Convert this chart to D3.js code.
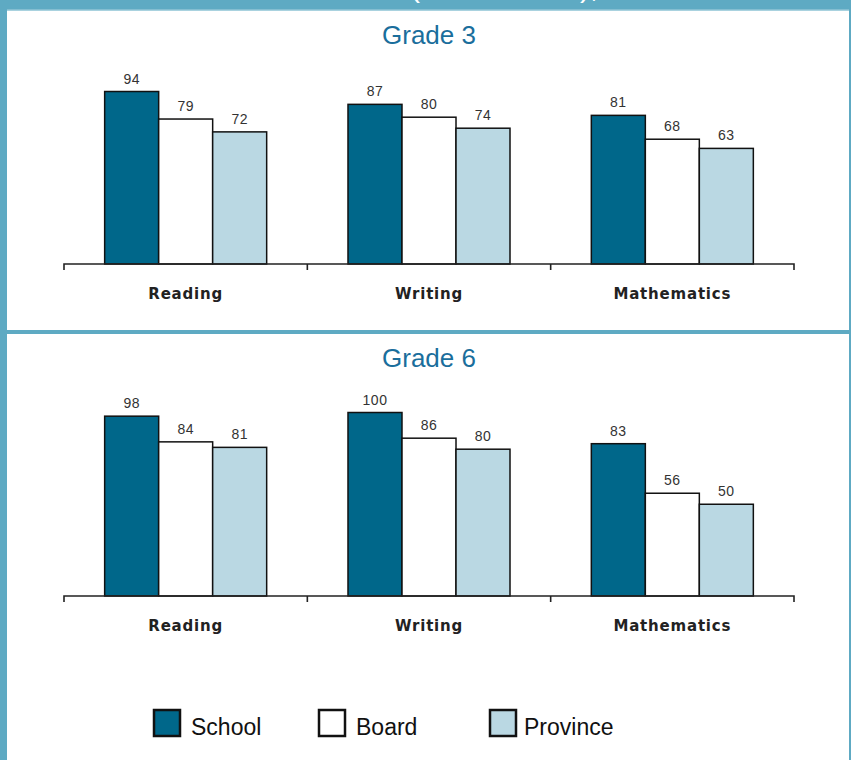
<!DOCTYPE html>
<html>
<head>
<meta charset="utf-8">
<script src="https://cdn.jsdelivr.net/npm/d3@7/dist/d3.min.js"></script>
<style>
  html, body { margin: 0; padding: 0; background: #fff; }
  svg { display: block; }
</style>
</head>
<body>
<svg id="chart" width="851" height="760"></svg>
<script>
const panelTitles = ["Grade 3", "Grade 6"];
const categories = ["Reading", "Writing", "Mathematics"];
const seriesNames = ["School", "Board", "Province"];
const grade3School = [94, 87, 81];
const grade3Board = [79, 80, 68];
const grade3Province = [72, 74, 63];
const grade6School = [98, 100, 83];
const grade6Board = [84, 86, 56];
const grade6Province = [81, 80, 50];
const headerText = "(All Students),";

const colors = { School: "#00678a", Board: "#ffffff", Province: "#bad8e3" };
const border = "#5eaac3";

const svg = d3.select("#chart");
const W = 851, H = 760;

// frame
svg.append("rect").attr("x", 0).attr("y", 0).attr("width", W).attr("height", H).attr("fill", "#fff");
svg.append("rect").attr("x", 0).attr("y", 0).attr("width", W).attr("height", 10).attr("fill", border);
svg.append("rect").attr("x", 0).attr("y", 9.5).attr("width", W).attr("height", 1.5).attr("fill", "#a9d2df");
svg.append("text").attr("x", 410).attr("y", -3).attr("fill", "#fff")
  .attr("font-family", "Liberation Sans, Arial, sans-serif").attr("font-size", 30)
  .text(headerText);
svg.append("rect").attr("x", 0).attr("y", 0).attr("width", 7).attr("height", H).attr("fill", border);
svg.append("rect").attr("x", 849).attr("y", 0).attr("width", 2).attr("height", H).attr("fill", border);
svg.append("rect").attr("x", 7).attr("y", 330).attr("width", 842).attr("height", 4).attr("fill", border);

const panels = [
  { title: panelTitles[0], titleY: 44, base: 264, data: [grade3School, grade3Board, grade3Province] },
  { title: panelTitles[1], titleY: 367, base: 596, data: [grade6School, grade6Board, grade6Province] }
];

const x0 = d3.scaleBand().domain(categories).range([64, 794]).paddingInner(0).paddingOuter(0);
const x1 = d3.scaleBand().domain(seriesNames).range([0, x0.bandwidth()]).paddingInner(0).paddingOuter(0.753);

panels.forEach(p => {
  const y = d3.scaleLinear().domain([0, 100]).range([p.base, p.base - 183.5]);
  const g = svg.append("g");

  g.append("text").attr("x", 429).attr("y", p.titleY).attr("text-anchor", "middle")
    .attr("fill", "#1a6e9c").attr("font-family", "Liberation Sans, Arial, sans-serif")
    .attr("font-size", 26).text(p.title);

  const rows = [];
  categories.forEach((c, i) => {
    seriesNames.forEach((s, j) => rows.push({ cat: c, series: s, value: p.data[j][i] }));
  });

  g.selectAll("rect.bar").data(rows).join("rect").attr("class", "bar")
    .attr("x", d => x0(d.cat) + x1(d.series))
    .attr("y", d => y(d.value))
    .attr("width", x1.bandwidth())
    .attr("height", d => y(0) - y(d.value))
    .attr("fill", d => colors[d.series])
    .attr("stroke", "#111").attr("stroke-width", 1.5);

  g.selectAll("text.val").data(rows).join("text").attr("class", "val")
    .attr("x", d => x0(d.cat) + x1(d.series) + x1.bandwidth() / 2)
    .attr("y", d => y(d.value) - 8)
    .attr("text-anchor", "middle")
    .attr("fill", "#333").attr("font-family", "Liberation Sans, Arial, sans-serif")
    .attr("font-size", 14).attr("letter-spacing", 0.5)
    .text(d => d.value);

  // axis line with boundary ticks
  const bounds = categories.map(c => x0(c)).concat([x0.range()[1]]);
  let path = `M${bounds[0]},${y(0) + 6}V${y(0)}H${bounds[bounds.length - 1]}V${y(0) + 6}`;
  bounds.slice(1, -1).forEach(b => { path += `M${b},${y(0)}V${y(0) + 6}`; });
  g.append("path").attr("d", path).attr("fill", "none").attr("stroke", "#222").attr("stroke-width", 1.6);

  const ax = g.append("g").attr("transform", `translate(0,${y(0)})`)
    .call(d3.axisBottom(x0).tickSize(0).tickPadding(24));
  ax.select(".domain").remove();
  ax.selectAll("text")
    .attr("font-family", "DejaVu Sans, Verdana, sans-serif").attr("font-weight", "bold")
    .attr("font-size", 15).attr("letter-spacing", 0.8).attr("fill", "#222");
});

// legend
const legendX = { School: 154, Board: 319, Province: 490 };
const legendTextX = { School: 191, Board: 356, Province: 524 };
const lg = svg.append("g");
lg.selectAll("rect").data(seriesNames).join("rect")
  .attr("x", d => legendX[d]).attr("y", 710).attr("width", 26).attr("height", 26)
  .attr("fill", d => colors[d]).attr("stroke", "#111").attr("stroke-width", 2.5);
lg.selectAll("text").data(seriesNames).join("text")
  .attr("x", d => legendTextX[d]).attr("y", 735)
  .attr("font-family", "Liberation Sans, Arial, sans-serif").attr("font-size", 23)
  .attr("fill", "#111").text(d => d);
</script>
</body>
</html>
